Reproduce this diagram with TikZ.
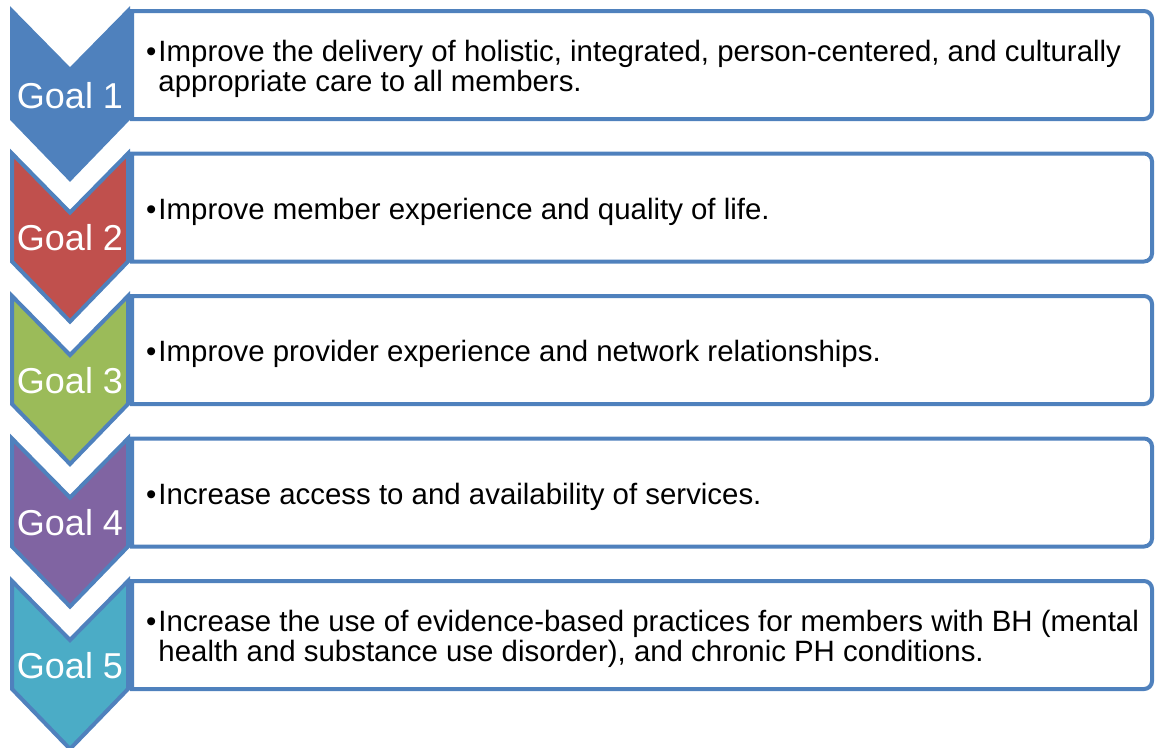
\documentclass[tikz,border=0pt]{standalone}
\usepackage{fontspec}
\setmainfont{Liberation Sans}
\usepackage{tikz}
\definecolor{edgeblue}{RGB}{79,129,189}
\definecolor{goalone}{RGB}{79,129,189}
\definecolor{goaltwo}{RGB}{192,80,77}
\definecolor{goalthree}{RGB}{155,187,89}
\definecolor{goalfour}{RGB}{128,100,162}
\definecolor{goalfive}{RGB}{75,172,198}
\newcommand{\itembullet}{•\hspace{2pt}}

\begin{document}
\begin{tikzpicture}[x=1pt,y=-1pt,
    chev/.style={draw=edgeblue,line width=4pt,miter limit=10},
    listbox/.style={draw=edgeblue,line width=4pt,fill=white},
    goallabel/.style={text=white,anchor=base,inner sep=0pt,font=\fontsize{36}{40}\selectfont},
    itemtext/.style={anchor=west,inner sep=0pt,align=left,font=\fontsize{29.4}{30}\selectfont}]
    \useasboundingbox (0,0) rectangle (1155,747);
    % Draw the chevrons, the boxes and their texts
    \foreach \i/\col/\txt in {
      1/goalone/{\itembullet Improve the delivery of holistic, integrated, person-centered, and culturally\\\phantom{\itembullet}appropriate care to all members.},
      2/goaltwo/{\itembullet Improve member experience and quality of life.},
      3/goalthree/{\itembullet Improve provider experience and network relationships.},
      4/goalfour/{\itembullet Increase access to and availability of services.},
      5/goalfive/{\itembullet Increase the use of evidence-based practices for members with BH (mental\\\phantom{\itembullet}health and substance use disorder), and chronic PH conditions.}}{
      \pgfmathsetmacro\ty{11+142.5*(\i-1)}
      \draw[chev,fill=\col] (12,\ty) -- (70,\ty+59) -- (128,\ty) -- (128,\ty+108)
        -- (70,\ty+168) -- (12,\ty+108) -- cycle;
      \draw[listbox] (132,\ty+108) -- (132,\ty) [rounded corners=8pt] -- (1152,\ty)
        -- (1152,\ty+108) [sharp corners] -- cycle;
      \node[goallabel] (goal\i) at (70,\ty+97) {Goal \i};
      \node[itemtext] (item\i) at (146,\ty+58) {\txt};
    }
\end{tikzpicture}
\end{document}
